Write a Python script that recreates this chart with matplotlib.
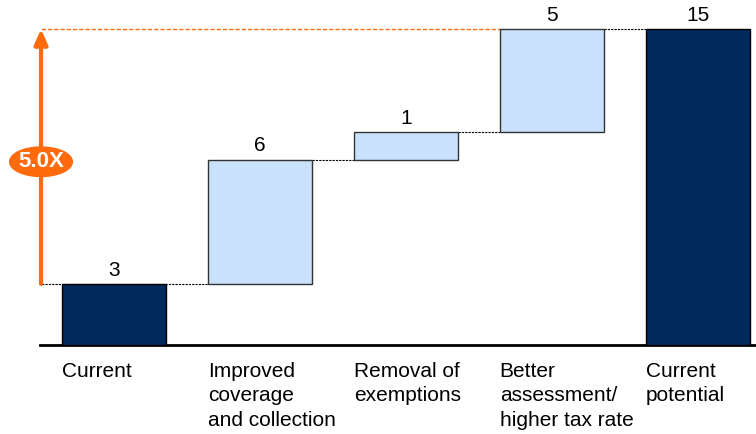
import matplotlib.pyplot as plt
from matplotlib.patches import Ellipse

plt.rcParams['font.family'] = ['Liberation Sans', 'DejaVu Sans']

labels = ['Current', 'Improved\ncoverage\nand collection', 'Removal of\nexemptions',
          'Better\nassessment/\nhigher tax rate', 'Current\npotential']
values = [2.9, 5.9, 1.3, 4.9, 15.0]
value_labels = ['3', '6', '1', '5', '15']
is_total = [True, False, False, False, True]
multiple = '5.0X'

dark = '#002A5C'
light = '#C9E1FA'
orange = '#FF6A0D'

fig = plt.figure(figsize=(7.56, 4.34), dpi=100)
ax = fig.add_axes([40 / 756, 1 - 345 / 434, 716 / 756, 345 / 434])

width = 0.713
bottoms = []
running = 0
for i, v in enumerate(values):
    if is_total[i]:
        b = 0
        running = v
    else:
        b = running
        running += v
    bottoms.append(b)
    ax.bar(i, v, width, bottom=b, color=dark if is_total[i] else light,
           edgecolor='black' if is_total[i] else '#333333', linewidth=1, zorder=3)
    ax.text(i, b + v + 0.2, value_labels[i], ha='center', va='bottom', fontsize=15)
    ax.text(i - width / 2, -0.8, labels[i], ha='left', va='top', fontsize=15,
            linespacing=1.37)

# connectors
tops = [bottoms[i] + values[i] for i in range(len(values))]
for i in range(len(values) - 1):
    y = tops[i]
    x0 = i + width / 2
    if i == 0:
        x0 = -0.54
    ax.plot([x0, i + 1 - width / 2], [y, y], color='black', lw=0.8,
            ls=(0, (2, 1)), zorder=2)
ax.plot([-0.54, 3 - width / 2], [tops[-1], tops[-1]], color=orange, lw=1,
        ls=(0, (3, 1.5)), zorder=2)

# multiple arrow
ax.annotate('', xy=(-0.5, tops[-1]), xytext=(-0.5, values[0]),
            arrowprops=dict(arrowstyle='-|>,head_width=0.4,head_length=0.9',
                            color=orange, lw=3, shrinkA=0, shrinkB=0), zorder=4)
ell = Ellipse((-0.5, 8.7), 0.43, 1.4, color=orange, zorder=5, clip_on=False)
ax.add_patch(ell)
ax.text(-0.5, 8.7, multiple, color='white', fontweight='bold', fontsize=16,
        ha='center', va='center', zorder=6)

ax.set_xlim(-0.507, 4.40)
ax.set_ylim(0, 16.38)
for s in ['top', 'right', 'left']:
    ax.spines[s].set_visible(False)
ax.spines['bottom'].set_linewidth(2)
ax.set_xticks([])
ax.set_yticks([])

fig.savefig('out.png', dpi=100)
